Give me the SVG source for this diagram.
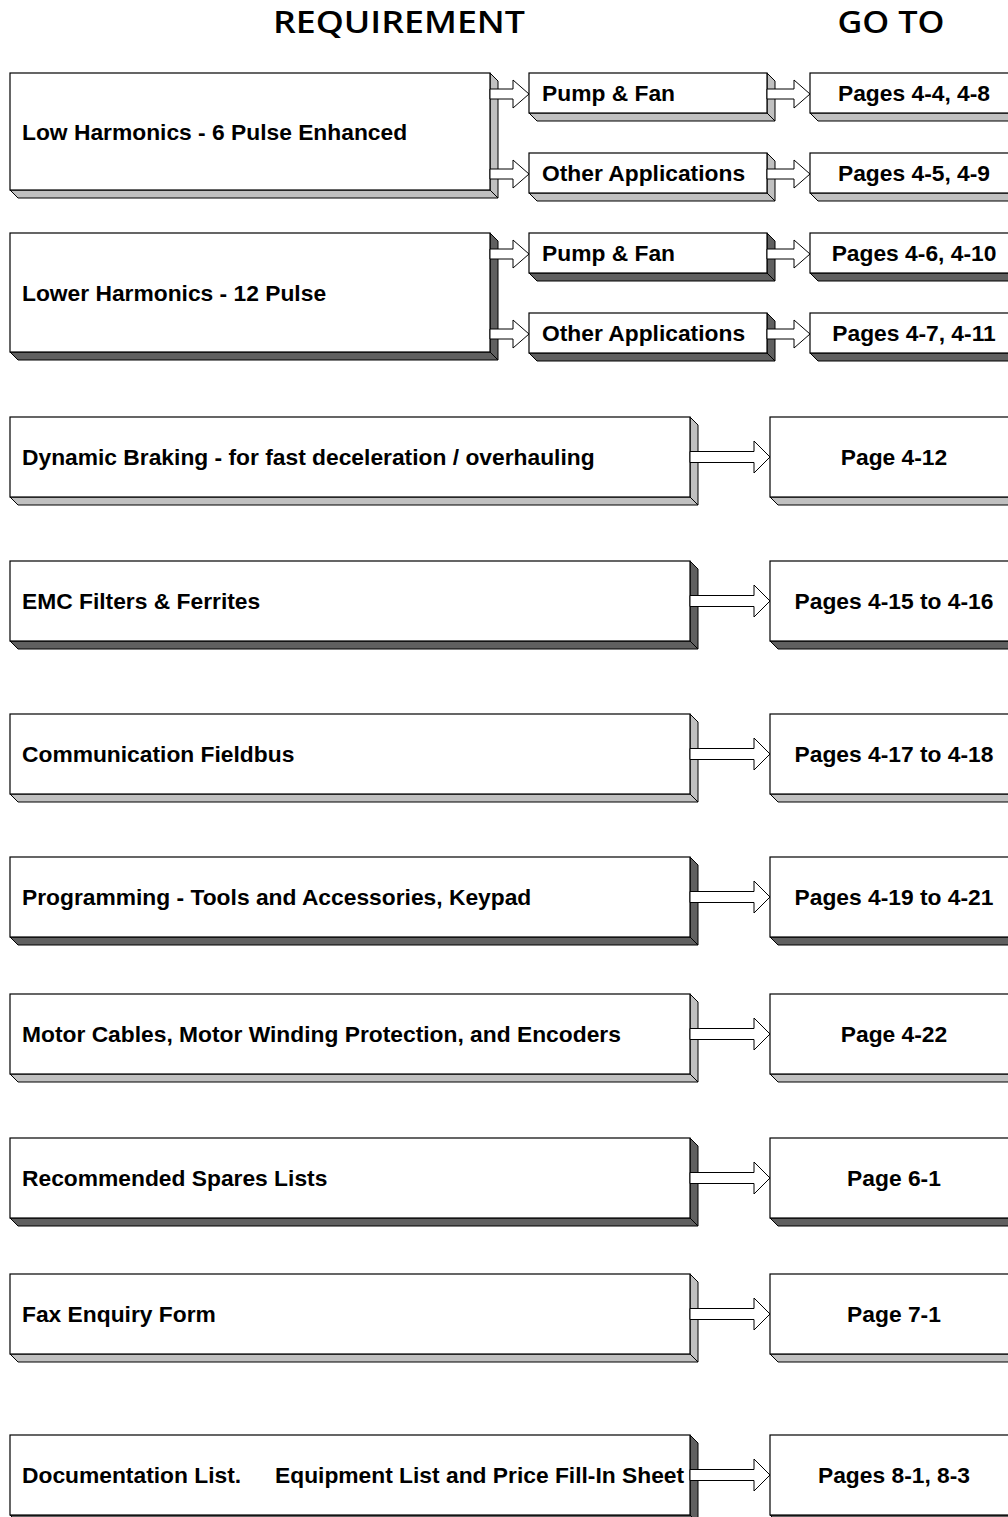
<svg xmlns="http://www.w3.org/2000/svg" width="1008" height="1517" viewBox="0 0 1008 1517">
<defs>
<style>
.front{fill:#fff;stroke:#000;stroke-width:1.2}
.lt{fill:#c0c0c0;stroke:#000;stroke-width:1}
.dk{fill:#606060;stroke:#000;stroke-width:1}
.t{font-family:"Liberation Sans",Arial,sans-serif;font-weight:bold;font-size:22.8px;fill:#000}
.c{text-anchor:middle}
.h{font-family:"Open Sans","DejaVu Sans",sans-serif;font-weight:600;font-size:30px;fill:#000;text-anchor:middle}
.arr{fill:#fff;stroke:#000;stroke-width:1;stroke-linejoin:miter}
</style>
</defs>
<rect width="1008" height="1517" fill="#fff"/>
<text class="h" x="399" y="33" textLength="252" lengthAdjust="spacingAndGlyphs">REQUIREMENT</text>
<text class="h" x="891" y="33" textLength="107" lengthAdjust="spacingAndGlyphs">GO TO</text>

<!-- Row 1 -->
<g id="low-harmonics">
<polygon class="lt" points="490,73 498,81 498,198 490,190"/>
<polygon class="lt" points="10,190 490,190 498,198 18,198"/>
<rect class="front" x="10" y="73" width="480" height="117"/>
<text class="t" x="22" y="139.5">Low Harmonics - 6 Pulse Enhanced</text>
</g>
<g id="pump-fan-1">
<polygon class="lt" points="767,73 775,81 775,121 767,113"/>
<polygon class="lt" points="529,113 767,113 775,121 537,121"/>
<rect class="front" x="529" y="73" width="238" height="40"/>
<text class="t" x="542" y="101">Pump &amp; Fan</text>
</g>
<g id="other-apps-1">
<polygon class="lt" points="767,153 775,161 775,201 767,193"/>
<polygon class="lt" points="529,193 767,193 775,201 537,201"/>
<rect class="front" x="529" y="153" width="238" height="40"/>
<text class="t" x="542" y="181">Other Applications</text>
</g>
<g id="pages-4-4">
<polygon class="lt" points="810,113 1018,113 1026,121 818,121"/>
<rect class="front" x="810" y="73" width="208" height="40"/>
<text class="t c" x="914" y="101">Pages 4-4, 4-8</text>
</g>
<g id="pages-4-5">
<polygon class="lt" points="810,193 1018,193 1026,201 818,201"/>
<rect class="front" x="810" y="153" width="208" height="40"/>
<text class="t c" x="914" y="181">Pages 4-5, 4-9</text>
</g>

<!-- Row 2 -->
<g id="lower-harmonics">
<polygon class="dk" points="490,233 498,241 498,360 490,352"/>
<polygon class="dk" points="10,352 490,352 498,360 18,360"/>
<rect class="front" x="10" y="233" width="480" height="119"/>
<text class="t" x="22" y="300.5">Lower Harmonics - 12 Pulse</text>
</g>
<g id="pump-fan-2">
<polygon class="dk" points="767,233 775,241 775,281 767,273"/>
<polygon class="dk" points="529,273 767,273 775,281 537,281"/>
<rect class="front" x="529" y="233" width="238" height="40"/>
<text class="t" x="542" y="261">Pump &amp; Fan</text>
</g>
<g id="other-apps-2">
<polygon class="dk" points="767,313 775,321 775,361 767,353"/>
<polygon class="dk" points="529,353 767,353 775,361 537,361"/>
<rect class="front" x="529" y="313" width="238" height="40"/>
<text class="t" x="542" y="341">Other Applications</text>
</g>
<g id="pages-4-6">
<polygon class="dk" points="810,273 1018,273 1026,281 818,281"/>
<rect class="front" x="810" y="233" width="208" height="40"/>
<text class="t c" x="914" y="261">Pages 4-6, 4-10</text>
</g>
<g id="pages-4-7">
<polygon class="dk" points="810,353 1018,353 1026,361 818,361"/>
<rect class="front" x="810" y="313" width="208" height="40"/>
<text class="t c" x="914" y="341">Pages 4-7, 4-11</text>
</g>

<!-- Row 3 -->
<g id="dynamic-braking">
<polygon class="lt" points="690,417 698,425 698,505 690,497"/>
<polygon class="lt" points="10,497 690,497 698,505 18,505"/>
<rect class="front" x="10" y="417" width="680" height="80"/>
<text class="t" x="22" y="465">Dynamic Braking - for fast deceleration / overhauling</text>
</g>
<g id="page-4-12">
<polygon class="lt" points="770,497 1018,497 1026,505 778,505"/>
<rect class="front" x="770" y="417" width="248" height="80"/>
<text class="t c" x="894" y="465">Page 4-12</text>
</g>

<!-- Row 4 -->
<g id="emc">
<polygon class="dk" points="690,561 698,569 698,649 690,641"/>
<polygon class="dk" points="10,641 690,641 698,649 18,649"/>
<rect class="front" x="10" y="561" width="680" height="80"/>
<text class="t" x="22" y="609">EMC Filters &amp; Ferrites</text>
</g>
<g id="pages-4-15">
<polygon class="dk" points="770,641 1018,641 1026,649 778,649"/>
<rect class="front" x="770" y="561" width="248" height="80"/>
<text class="t c" x="894" y="609">Pages 4-15 to 4-16</text>
</g>

<!-- Row 5 -->
<g id="fieldbus">
<polygon class="lt" points="690,714 698,722 698,802 690,794"/>
<polygon class="lt" points="10,794 690,794 698,802 18,802"/>
<rect class="front" x="10" y="714" width="680" height="80"/>
<text class="t" x="22" y="762">Communication Fieldbus</text>
</g>
<g id="pages-4-17">
<polygon class="lt" points="770,794 1018,794 1026,802 778,802"/>
<rect class="front" x="770" y="714" width="248" height="80"/>
<text class="t c" x="894" y="762">Pages 4-17 to 4-18</text>
</g>

<!-- Row 6 -->
<g id="programming">
<polygon class="dk" points="690,857 698,865 698,945 690,937"/>
<polygon class="dk" points="10,937 690,937 698,945 18,945"/>
<rect class="front" x="10" y="857" width="680" height="80"/>
<text class="t" x="22" y="905">Programming - Tools and Accessories, Keypad</text>
</g>
<g id="pages-4-19">
<polygon class="dk" points="770,937 1018,937 1026,945 778,945"/>
<rect class="front" x="770" y="857" width="248" height="80"/>
<text class="t c" x="894" y="905">Pages 4-19 to 4-21</text>
</g>

<!-- Row 7 -->
<g id="motor-cables">
<polygon class="lt" points="690,994 698,1002 698,1082 690,1074"/>
<polygon class="lt" points="10,1074 690,1074 698,1082 18,1082"/>
<rect class="front" x="10" y="994" width="680" height="80"/>
<text class="t" x="22" y="1042">Motor Cables, Motor Winding Protection, and Encoders</text>
</g>
<g id="page-4-22">
<polygon class="lt" points="770,1074 1018,1074 1026,1082 778,1082"/>
<rect class="front" x="770" y="994" width="248" height="80"/>
<text class="t c" x="894" y="1042">Page 4-22</text>
</g>

<!-- Row 8 -->
<g id="spares">
<polygon class="dk" points="690,1138 698,1146 698,1226 690,1218"/>
<polygon class="dk" points="10,1218 690,1218 698,1226 18,1226"/>
<rect class="front" x="10" y="1138" width="680" height="80"/>
<text class="t" x="22" y="1186">Recommended Spares Lists</text>
</g>
<g id="page-6-1">
<polygon class="dk" points="770,1218 1018,1218 1026,1226 778,1226"/>
<rect class="front" x="770" y="1138" width="248" height="80"/>
<text class="t c" x="894" y="1186">Page 6-1</text>
</g>

<!-- Row 9 -->
<g id="fax">
<polygon class="lt" points="690,1274 698,1282 698,1362 690,1354"/>
<polygon class="lt" points="10,1354 690,1354 698,1362 18,1362"/>
<rect class="front" x="10" y="1274" width="680" height="80"/>
<text class="t" x="22" y="1322">Fax Enquiry Form</text>
</g>
<g id="page-7-1">
<polygon class="lt" points="770,1354 1018,1354 1026,1362 778,1362"/>
<rect class="front" x="770" y="1274" width="248" height="80"/>
<text class="t c" x="894" y="1322">Page 7-1</text>
</g>

<!-- Row 10 -->
<g id="documentation">
<polygon class="dk" points="690,1435 698,1443 698,1523 690,1515"/>
<polygon class="dk" points="10,1515 690,1515 698,1523 18,1523"/>
<rect class="front" x="10" y="1435" width="680" height="80"/>
<text class="t" x="22" y="1483">Documentation List.<tspan x="275">Equipment List and Price Fill-In Sheet</tspan></text>
</g>
<g id="pages-8-1">
<polygon class="dk" points="770,1515 1018,1515 1026,1523 778,1523"/>
<rect class="front" x="770" y="1435" width="248" height="80"/>
<text class="t c" x="894" y="1483">Pages 8-1, 8-3</text>
</g>

<g id="connectors">
<polygon class="arr" points="490,89 513,89 513,80 529,94 513,108 513,99 490,99"/>
<polygon class="arr" points="490,169 513,169 513,160 529,174 513,188 513,179 490,179"/>
<polygon class="arr" points="767,89 794,89 794,80 810,94 794,108 794,99 767,99"/>
<polygon class="arr" points="767,169 794,169 794,160 810,174 794,188 794,179 767,179"/>
<polygon class="arr" points="490,249 513,249 513,240 529,254 513,268 513,259 490,259"/>
<polygon class="arr" points="490,329 513,329 513,320 529,334 513,348 513,339 490,339"/>
<polygon class="arr" points="767,249 794,249 794,240 810,254 794,268 794,259 767,259"/>
<polygon class="arr" points="767,329 794,329 794,320 810,334 794,348 794,339 767,339"/>
<polygon class="arr" points="690,451.5 754,451.5 754,441 770,457 754,473 754,462.5 690,462.5"/>
<polygon class="arr" points="690,595.5 754,595.5 754,585 770,601 754,617 754,606.5 690,606.5"/>
<polygon class="arr" points="690,748.5 754,748.5 754,738 770,754 754,770 754,759.5 690,759.5"/>
<polygon class="arr" points="690,891.5 754,891.5 754,881 770,897 754,913 754,902.5 690,902.5"/>
<polygon class="arr" points="690,1028.5 754,1028.5 754,1018 770,1034 754,1050 754,1039.5 690,1039.5"/>
<polygon class="arr" points="690,1172.5 754,1172.5 754,1162 770,1178 754,1194 754,1183.5 690,1183.5"/>
<polygon class="arr" points="690,1308.5 754,1308.5 754,1298 770,1314 754,1330 754,1319.5 690,1319.5"/>
<polygon class="arr" points="690,1469.5 754,1469.5 754,1459 770,1475 754,1491 754,1480.5 690,1480.5"/>
</g>
</svg>
